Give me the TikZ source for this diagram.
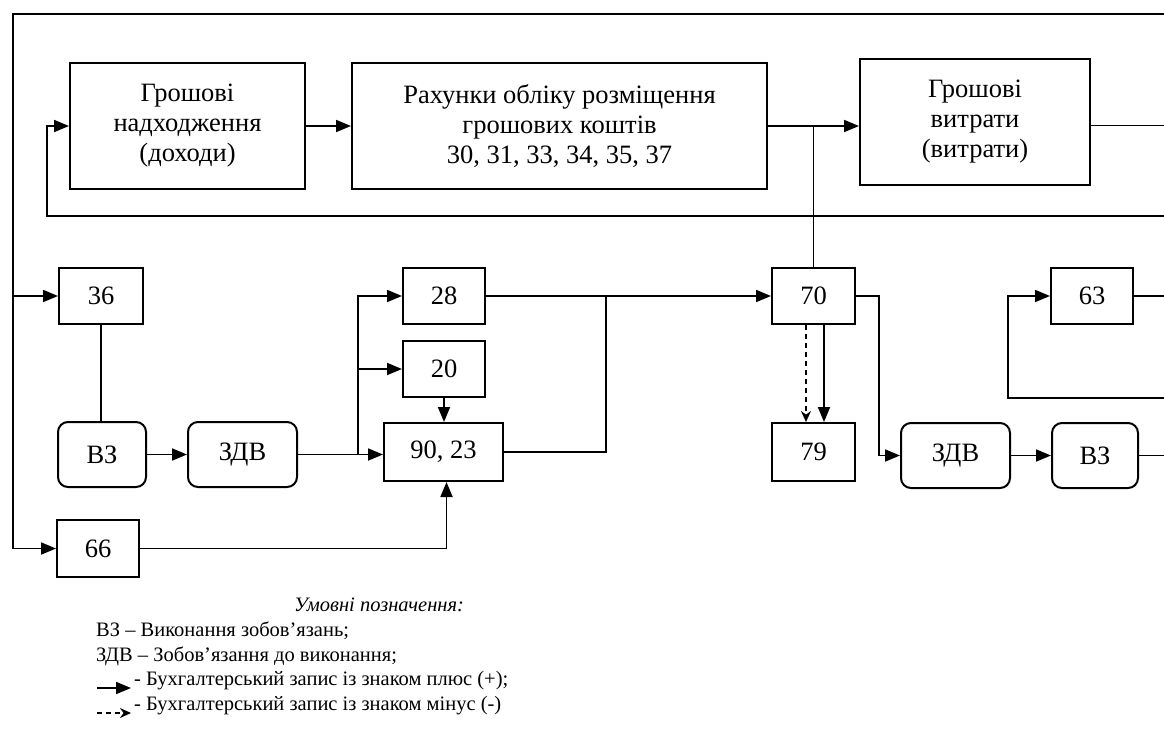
\documentclass[tikz,border=0pt]{standalone}
\usepackage{fontspec}
\setmainfont{Liberation Serif}
\usetikzlibrary{arrows.meta,positioning,calc}

\begin{document}
\begin{tikzpicture}[
  x=1pt, y=-1pt,
  every node/.style={font=\fontsize{26.5}{30}\selectfont},
  box/.style={draw, line width=2pt, inner sep=0pt, align=center},
  rbox/.style={box, rounded corners=10pt},
  ln/.style={line width=1.8pt},
  arr/.style={ln, -{Triangle[length=15pt,width=12pt]}},
  dsh/.style={line width=1.6pt, dash pattern=on 5pt off 4pt, -{Stealth[length=11pt,width=10pt]}},
  leg/.style={font=\fontsize{20.5}{24}\selectfont, anchor=west, inner sep=0pt},
]

\useasboundingbox (0,0) rectangle (1164,753);

%% ── money flow (top row) ─────────────────────────────────────────────────
\node[box, minimum width=235pt, minimum height=126pt] (inc) at (187.5,126) {Грошові\\надходження\\(доходи)};
\node[box, minimum width=415pt, minimum height=126pt] (acc) at (559.5,126) {Рахунки обліку розміщення\\грошових коштів\\30, 31, 33, 34, 35, 37};
\node[box, minimum width=230pt, minimum height=126pt] (exp) at (975,122) {Грошові\\витрати\\(витрати)};

%% free ends at the cut right edge
\coordinate (eTop)  at (1164,14);
\coordinate (eOut)  at (1164,125.5);
\coordinate (eBack) at (1164,216);
\coordinate (e63)   at (1164,296);
\coordinate (eLoop) at (1164,398);
\coordinate (eVZ)   at (1164,455.5);
\coordinate (tl) at (13,14);
\coordinate (bk) at (47,216);

\draw[arr] (inc.east) -- (acc.west);
\draw[arr] (acc.east) -- (exp.west |- acc.east);
\draw[ln] (exp.east |- eOut) -- (eOut);
\draw[arr] (eBack) -- (bk) |- (inc.west);

%% ── left part: 36, 66, ВЗ, ЗДВ ────────────────────────────────────────────
\node[box, minimum width=84pt, minimum height=56pt] (a36) at (101,296) {36};
\node[box, minimum width=82pt, minimum height=57pt] (a66) at (98,548.5) {66};
\node[rbox, minimum width=88pt, minimum height=65pt] (vz1) at (102,454.5) {ВЗ};
\node[rbox, minimum width=109pt, minimum height=65pt] (zdv1) at (242.5,454.5) {ЗДВ};

\draw[arr] (eTop) -- (tl) |- (a66.west);
\draw[arr] (tl |- a36.west) -- (a36.west);
\draw[ln] (a36.south) -- (a36.south |- vz1.north);
\draw[arr] (vz1.east) -- (zdv1.west);

%% ── middle part: 28, 20, 90/23 ────────────────────────────────────────────
\node[box, minimum width=82pt, minimum height=56pt] (a28) at (444,296) {28};
\node[box, minimum width=82pt, minimum height=56pt] (a20) at (444,369) {20};
\node[box, minimum width=119pt, minimum height=58pt] (a90) at (443.5,452) {90, 23};

\coordinate (br1) at (358,454.5);
\coordinate (j1) at (606,296);
\draw[arr] (zdv1.east) -- (a90.west |- zdv1.east);
\draw[arr] (br1) |- (a28.west);
\draw[arr] (br1 |- a20.west) -- (a20.west);
\draw[arr] (a20.south) -- (a20.south |- a90.north);
\draw[arr] (a66.east) -| ([xshift=3pt]a90.south);
\draw[ln] (a90.east) -| (j1);

%% ── right part: 70, 79, ЗДВ, ВЗ, 63 ──────────────────────────────────────
\node[box, minimum width=83pt, minimum height=56pt] (a70) at (813.5,296) {70};
\node[box, minimum width=83pt, minimum height=58pt] (a79) at (813.5,452) {79};
\node[rbox, minimum width=109pt, minimum height=65pt] (zdv2) at (955.5,455.5) {ЗДВ};
\node[rbox, minimum width=86pt, minimum height=65pt] (vz2) at (1095,455.5) {ВЗ};
\node[box, minimum width=82pt, minimum height=56pt] (a63) at (1092,296) {63};

\coordinate (lp) at (1008,398);
\draw[arr] (a28.east) -- (a70.west);
\draw[ln] (acc.east -| a70.north) -- (a70.north);
\draw[dsh] ([xshift=-7.5pt]a70.south) -- ([xshift=-7.5pt]a79.north);
\draw[arr] ([xshift=10.5pt]a70.south) -- ([xshift=10.5pt]a79.north);
\draw[arr] (a70.east) -- ++(23,0) |- (zdv2.west);
\draw[arr] (zdv2.east) -- (vz2.west);
\draw[ln] (vz2.east) -- (eVZ);
\draw[ln] (a63.east) -- (e63);
\draw[arr] (eLoop) -- (lp) |- (a63.west);

%% ── legend ───────────────────────────────────────────────────────────────
\node[font=\fontsize{20.5}{24}\selectfont\itshape, inner sep=0pt] (lgT) at (379,605) {Умовні позначення:};
\node[leg] (lg1) at (96,631) {ВЗ – Виконання зобов’язань;};
\node[leg] (lg2) at (96,656) {ЗДВ – Зобов’язання до виконання;};
\node[leg] (lg3) at (134,681) {- Бухгалтерський запис із знаком плюс (+);};
\node[leg] (lg4) at (134,706) {- Бухгалтерський запис із знаком мінус (-)};
\coordinate (lgA1) at (97,688);
\coordinate (lgB1) at (131,688);
\coordinate (lgA2) at (97,713);
\coordinate (lgB2) at (131,713);
\draw[arr] (lgA1) -- (lgB1);
\draw[dsh] (lgA2) -- (lgB2);

\end{tikzpicture}
\end{document}
